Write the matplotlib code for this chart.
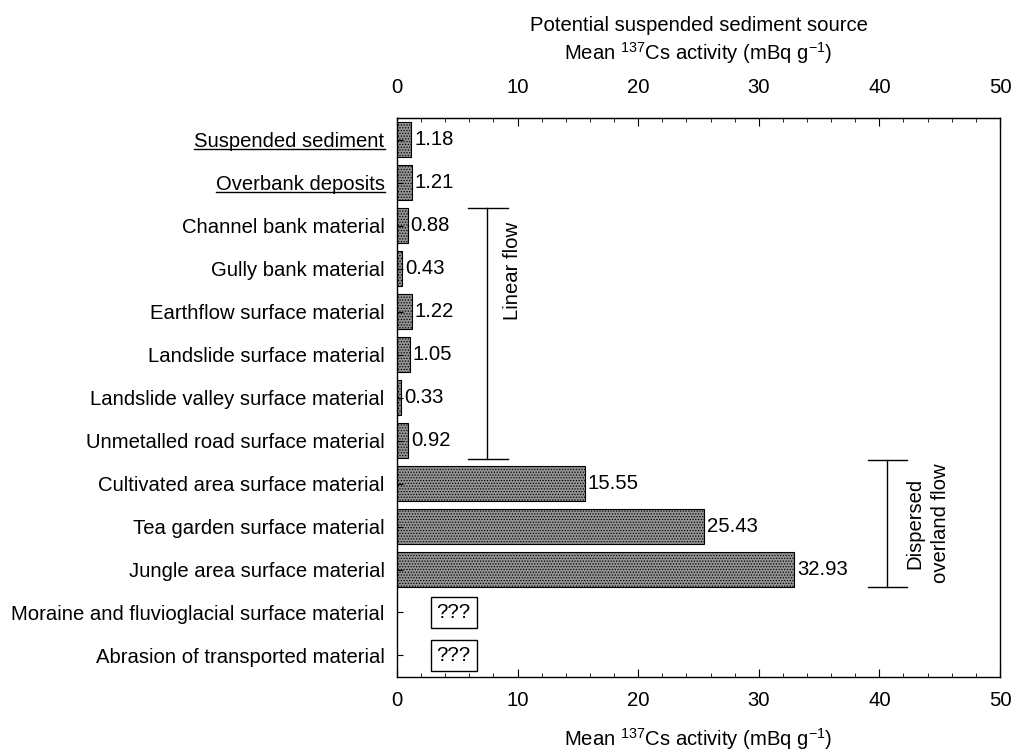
import numpy as np
import matplotlib
matplotlib.use("Agg")
import matplotlib.pyplot as plt
from matplotlib.lines import Line2D

plt.rcParams["font.family"] = ["Liberation Sans", "DejaVu Sans"]
plt.rcParams["mathtext.fontset"] = "custom"
plt.rcParams["mathtext.rm"] = "Liberation Sans"
plt.rcParams["hatch.color"] = "#222222"
plt.rcParams["hatch.linewidth"] = 0.6

sources = ["Suspended sediment", "Overbank deposits", "Channel bank material",
           "Gully bank material", "Earthflow surface material",
           "Landslide surface material", "Landslide valley surface material",
           "Unmetalled road surface material", "Cultivated area surface material",
           "Tea garden surface material", "Jungle area surface material",
           "Moraine and fluvioglacial surface material",
           "Abrasion of transported material"]
cs_activity = [1.18, 1.21, 0.88, 0.43, 1.22, 1.05, 0.33, 0.92, 15.55, 25.43, 32.93]
unknown_rows = [11, 12]
underlined = [0, 1]

fs = 14.6
fig = plt.figure(figsize=(10.19, 7.56), dpi=100)
ax = fig.add_axes([0.3896, 0.1045, 0.5917, 0.7394])

y = np.arange(len(cs_activity))
ax.barh(y, cs_activity, height=0.8, facecolor="#949494", edgecolor="black",
        linewidth=0.8, hatch="......")
for yi, v in zip(y, cs_activity):
    ax.text(v + 0.25, yi, f"{v:.2f}", va="center", ha="left", fontsize=fs)

for r in unknown_rows:
    ax.text(4.7, r, "???", ha="center", va="center", fontsize=fs,
            bbox=dict(boxstyle="square,pad=0.3", fc="white", ec="black", lw=1))

# bracket: linear flow
ax.plot([7.45, 7.45], [1.6, 7.43], color="black", lw=1)
ax.plot([5.9, 9.2], [1.6, 1.6], color="black", lw=1)
ax.plot([5.9, 9.2], [7.43, 7.43], color="black", lw=1)
ax.text(9.6, 3.05, "Linear flow", rotation=90, ha="center", va="center", fontsize=fs)

# bracket: dispersed overland flow
ax.plot([40.6, 40.6], [7.46, 10.4], color="black", lw=1)
ax.plot([39.05, 42.3], [7.46, 7.46], color="black", lw=1)
ax.plot([39.05, 42.3], [10.4, 10.4], color="black", lw=1)
ax.text(44.0, 8.93, "Dispersed\noverland flow", rotation=90, ha="center",
        va="center", fontsize=fs, linespacing=1.45)

ax.set_xlim(0, 50)
ax.set_ylim(len(sources) - 0.5, -0.5)
ax.set_yticks(np.arange(len(sources)))
ax.set_yticklabels(sources, fontsize=fs)
ax.set_xticks(np.arange(0, 51, 10))
ax.set_xticks(np.arange(0, 51, 2), minor=True)
ax.tick_params(axis="x", direction="in", labelsize=fs, length=6, pad=10)
ax.tick_params(axis="x", which="minor", direction="in", length=3)
ax.tick_params(axis="y", direction="in", length=4, pad=9)
ax.set_xlabel("Mean $^{\\mathrm{137}}$Cs activity (mBq g$^{\\mathrm{-1}}$)",
              fontsize=fs, labelpad=12)

top = ax.secondary_xaxis("top")
top.set_xticks(np.arange(0, 51, 10))
top.set_xticks(np.arange(0, 51, 2), minor=True)
top.tick_params(axis="x", direction="in", labelsize=fs, length=6, pad=15)
top.tick_params(axis="x", which="minor", direction="in", length=3)
top.set_xlabel("Potential suspended sediment source\n"
               "Mean $^{\\mathrm{137}}$Cs activity (mBq g$^{\\mathrm{-1}}$)",
               fontsize=fs, labelpad=13, linespacing=1.25)

for sp in ax.spines.values():
    sp.set_linewidth(1)

# underline the first labels
fig.canvas.draw()
renderer = fig.canvas.get_renderer()
inv = fig.transFigure.inverted()
for i in underlined:
    bb = ax.get_yticklabels()[i].get_window_extent(renderer)
    (x0, y0), (x1, _) = inv.transform([(bb.x0, bb.y0 + 2), (bb.x1, bb.y1)])
    fig.add_artist(Line2D([x0, x1], [y0, y0], color="black", lw=1,
                          transform=fig.transFigure))

fig.savefig("out.png", dpi=100)
